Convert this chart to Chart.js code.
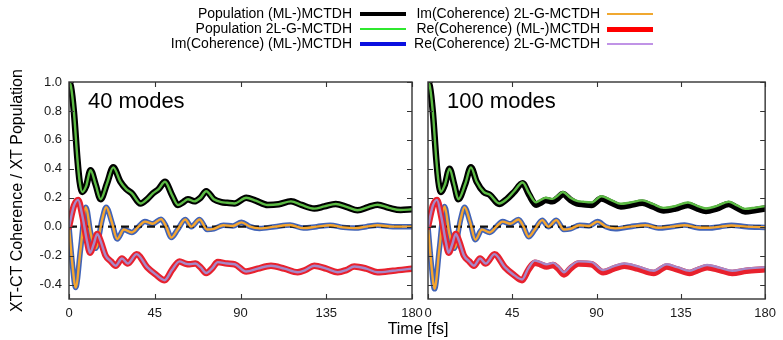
<!DOCTYPE html>
<html><head><meta charset="utf-8">
<script src="https://cdn.jsdelivr.net/npm/chart.js@4/dist/chart.umd.min.js"></script>
<style>
body{margin:0;background:#fff;width:783px;height:340px;overflow:hidden;position:relative;font-family:"Liberation Sans",Arial,sans-serif;color:#000}
canvas{position:absolute;left:0;top:0}
.txt{position:absolute;white-space:nowrap}
.lgc{position:absolute;font-size:14px;line-height:15px;text-align:right;white-space:nowrap}
.smp{position:absolute}
</style></head><body>
<canvas id="cL" width="783" height="340"></canvas>
<canvas id="cR" width="783" height="340"></canvas>
<div id="legend"></div>
<div class="txt" style="left:88px;top:90px;font-size:22px;line-height:22px">40 modes</div>
<div class="txt" style="left:447px;top:90px;font-size:22px;line-height:22px">100 modes</div>
<div class="txt" style="left:338px;width:160px;text-align:center;top:320px;font-size:16px;line-height:18px">Time [fs]</div>
<script>
// ---------- data ----------
const xTickVals = [0, 45, 90, 135, 180];
const yTickVals = [-0.4, -0.2, 0.0, 0.2, 0.4, 0.6, 0.8, 1.0];
const seriesNames = ["Population (ML-)MCTDH","Population 2L-G-MCTDH","Im(Coherence) (ML-)MCTDH","Im(Coherence) 2L-G-MCTDH","Re(Coherence) (ML-)MCTDH","Re(Coherence) 2L-G-MCTDH"];
const panelLabels = ["40 modes", "100 modes"];

const zeroT = [0, 180];
const zeroV = [0, 0];

// 40 modes
const popT40 = [0,1,2.6,4.4,5.6,7,9,11.3,14,16.6,20,23.2,27,30,33,37.5,41,44,47,50.4,54,57.2,60,62.4,65.8,69,72,76,79.9,83,86.8,93,98,104.3,110,116.5,122,128.7,134,140,146,151.4,157,161.9,168,174,180];
const popML40 = [1.0,0.97,0.79,0.47,0.31,0.24,0.28,0.39,0.29,0.19,0.30,0.41,0.31,0.26,0.23,0.16,0.19,0.23,0.26,0.31,0.22,0.15,0.17,0.19,0.175,0.20,0.245,0.19,0.17,0.165,0.16,0.20,0.18,0.15,0.155,0.175,0.15,0.125,0.14,0.157,0.135,0.113,0.135,0.152,0.13,0.115,0.12];
const popG40 = [1.0,0.97,0.79,0.47,0.31,0.24,0.28,0.39,0.29,0.19,0.30,0.41,0.31,0.26,0.23,0.16,0.19,0.23,0.26,0.31,0.22,0.15,0.17,0.19,0.175,0.20,0.245,0.19,0.17,0.165,0.16,0.20,0.18,0.15,0.155,0.175,0.15,0.125,0.14,0.157,0.135,0.113,0.135,0.152,0.13,0.115,0.12];

const imT40 = [0,1.7,3.5,6.1,8.9,11.3,14,17.4,19.5,22.5,25.3,28.8,33,36.5,39.8,44,48.3,51,53.7,57,61,64.2,68.5,72.5,76,81,86,90.5,95,100,108,116,123,130,137,144,150,156,162,170,180];
const imML40 = [0,-0.25,-0.42,-0.15,0.135,-0.04,-0.15,0.05,0.135,0.03,-0.085,-0.02,-0.04,0.0,0.035,0.02,0.052,0.0,-0.075,-0.02,0.05,0.0,0.05,-0.02,-0.015,0.01,0.005,0.03,0.0,-0.012,0.0,0.012,-0.01,0.0,0.01,-0.005,-0.01,0.0,0.01,0.0,0.0];
const imG40 = [0,-0.25,-0.42,-0.15,0.135,-0.04,-0.15,0.05,0.135,0.03,-0.085,-0.02,-0.04,0.0,0.035,0.02,0.052,0.0,-0.075,-0.02,0.05,0.0,0.05,-0.02,-0.015,0.01,0.005,0.03,0.0,-0.012,0.0,0.012,-0.01,0.0,0.01,-0.005,-0.01,0.0,0.01,0.0,0.0];

const reT40 = [0,2.6,4.8,7,9.6,11,13,14.8,16.6,19.2,22,24.5,27.8,30.8,35.5,41,45.5,50.2,54,58,61,63.3,66.3,69,72,75,78.1,83,87,93,99,106,113,120,124,128.7,135,141,145.5,149.7,156,161.9,170,180];
const reML40 = [0,0.145,0.185,0.075,-0.11,-0.18,-0.12,-0.05,-0.1,-0.2,-0.24,-0.27,-0.22,-0.255,-0.19,-0.28,-0.33,-0.37,-0.3,-0.24,-0.255,-0.26,-0.255,-0.28,-0.32,-0.29,-0.245,-0.255,-0.26,-0.31,-0.29,-0.27,-0.29,-0.315,-0.3,-0.27,-0.29,-0.315,-0.3,-0.275,-0.29,-0.315,-0.305,-0.29];
const reG40 = [0,0.145,0.185,0.075,-0.11,-0.18,-0.12,-0.05,-0.1,-0.2,-0.24,-0.27,-0.22,-0.255,-0.19,-0.28,-0.33,-0.37,-0.3,-0.24,-0.255,-0.26,-0.255,-0.28,-0.32,-0.29,-0.245,-0.255,-0.26,-0.31,-0.29,-0.27,-0.29,-0.315,-0.3,-0.27,-0.29,-0.315,-0.3,-0.275,-0.29,-0.315,-0.305,-0.29];

// 100 modes
const popT100 = [0,1,2.6,4.4,5.6,6.8,9,11.5,14,16.2,20,22.9,26,29.7,33,38,42,46,50.5,54,57.7,60,62.9,66.4,69,72,76,79.5,83,87.3,92.6,98,103,108,114.4,120,125.8,132,138.8,144,148.4,154,160.6,165,169.3,175,180];
const popML100 = [1.0,0.97,0.79,0.47,0.31,0.24,0.29,0.40,0.29,0.19,0.30,0.41,0.31,0.24,0.22,0.157,0.19,0.24,0.30,0.22,0.152,0.165,0.185,0.175,0.195,0.225,0.185,0.16,0.155,0.15,0.195,0.165,0.14,0.15,0.165,0.14,0.112,0.125,0.15,0.125,0.108,0.125,0.157,0.13,0.105,0.115,0.125];
const popG100 = [1.0,0.97,0.79,0.47,0.31,0.24,0.29,0.40,0.29,0.19,0.30,0.41,0.31,0.24,0.22,0.16,0.19,0.245,0.305,0.23,0.168,0.183,0.2,0.192,0.212,0.24,0.2,0.178,0.172,0.168,0.21,0.182,0.158,0.167,0.182,0.157,0.13,0.142,0.167,0.142,0.126,0.142,0.172,0.147,0.123,0.132,0.142];

const imT100 = [0,1.7,3.5,6.1,8.9,11.3,14,17.4,19.5,22.5,25.3,28.8,33,36.5,39.8,44,48.3,51,53.7,57,61,64.2,68.5,72.5,76,81,86,90.5,95,100,108,116,123,130,137,144,150,156,162,170,180];
const imML100 = [0,-0.25,-0.43,-0.15,0.14,-0.04,-0.15,0.05,0.135,0.03,-0.09,-0.02,-0.04,0.0,0.035,0.02,0.05,0.0,-0.07,-0.02,0.045,0.0,0.045,-0.02,-0.015,0.01,0.005,0.035,0.0,-0.015,0.0,0.012,-0.01,0.0,0.012,-0.008,-0.01,0.0,0.01,0.0,-0.005];
const imG100 = [0,-0.25,-0.43,-0.15,0.14,-0.04,-0.15,0.05,0.135,0.03,-0.09,-0.02,-0.04,0.0,0.035,0.02,0.05,0.0,-0.07,-0.02,0.045,0.0,0.045,-0.02,-0.015,0.01,0.005,0.035,0.0,-0.012,0.0,0.01,-0.008,0.0,0.01,-0.006,-0.008,0.0,0.008,0.0,-0.004];

const reT100 = [0,2.6,4.8,7,9.6,11,13,14.8,16.6,19.2,22,24.5,27.8,30.8,35.5,41,45.5,50.2,53.5,57,60,63.3,66.8,69.5,72.6,76,80.4,87.3,93.5,99,104.8,112,120.5,127.5,133,139.7,144,149,156,162.4,170,180];
const reML100 = [0,0.145,0.185,0.075,-0.11,-0.18,-0.12,-0.05,-0.1,-0.2,-0.24,-0.27,-0.22,-0.255,-0.19,-0.28,-0.33,-0.37,-0.3,-0.25,-0.26,-0.275,-0.265,-0.29,-0.33,-0.29,-0.255,-0.26,-0.315,-0.29,-0.27,-0.29,-0.32,-0.275,-0.295,-0.32,-0.3,-0.28,-0.3,-0.32,-0.305,-0.295];
const reG100 = [0,0.145,0.185,0.075,-0.11,-0.18,-0.12,-0.05,-0.1,-0.2,-0.24,-0.27,-0.22,-0.255,-0.19,-0.28,-0.33,-0.365,-0.29,-0.235,-0.245,-0.26,-0.25,-0.275,-0.315,-0.275,-0.24,-0.245,-0.3,-0.275,-0.255,-0.275,-0.305,-0.26,-0.28,-0.305,-0.285,-0.265,-0.285,-0.305,-0.29,-0.28];

// ---------- styles ----------
const FONT = "'Liberation Sans', Arial, sans-serif";
Chart.defaults.font.family = FONT;
const plotStyle = [
  {c:'#000000', w:6.5, o:9},
  {c:'#5cbb44', w:2.4, o:8},
  {c:'#4063b8', w:5.5, o:7},
  {c:'#f4a530', w:2.4, o:5},
  {c:'#e8212d', w:6.5, o:4},
  {c:'#a688c8', w:2.4, o:3}
];
const legendStyle = [
  {c:'#000000', h:4},{c:'#2fe82f', h:2.5},{c:'#0a10e0', h:4},
  {c:'#f0a830', h:2.5},{c:'#ff0000', h:5},{c:'#c093e6', h:2.5}
];

function pts(t, v){ return t.map((tt,i)=>({x:tt, y:v[i]})); }
function ds(i, t, v){
  const s = plotStyle[i];
  return {label: seriesNames[i], data: pts(t,v), borderColor: s.c, borderWidth: s.w, order: s.o,
    pointRadius:0, fill:false, cubicInterpolationMode:'monotone', borderJoinStyle:'round', borderCapStyle:'round'};
}
function zeroDs(){
  return {label:'zero', data: pts(zeroT, zeroV), borderColor:'#111', borderWidth:2.4, borderDash:[8,5], order:6, pointRadius:0, fill:false};
}

const framePlugin = {
  id:'frame',
  afterDatasetsDraw(chart){
    const {ctx, chartArea:a, scales:{x, y}} = chart;
    ctx.save();
    ctx.strokeStyle = '#333'; ctx.lineWidth = 1.4;
    ctx.strokeRect(a.left, a.top, a.right-a.left, a.bottom-a.top);
    ctx.lineWidth = 1.1;
    ctx.beginPath();
    xTickVals.forEach(v=>{ const p = Math.round(x.getPixelForValue(v))+0.5;
      ctx.moveTo(p, a.bottom); ctx.lineTo(p, a.bottom-5); ctx.moveTo(p, a.top); ctx.lineTo(p, a.top+5); });
    yTickVals.forEach(v=>{ const p = Math.round(y.getPixelForValue(v))+0.5;
      ctx.moveTo(a.left, p); ctx.lineTo(a.left+5, p); ctx.moveTo(a.right, p); ctx.lineTo(a.right-5, p); });
    ctx.stroke();
    ctx.restore();
  }
};

function makeChart(id, sets, isLeft){
  return new Chart(document.getElementById(id), {
    type:'line',
    data:{datasets: sets},
    options:{
      responsive:false, animation:false, events:[],
      layout:{padding: isLeft ? {top:82, right:371, bottom:0, left:0} : {top:82, right:12, bottom:0, left:0}},
      plugins:{legend:{display:false}, tooltip:{enabled:false}},
      scales:{
        x:{type:'linear', min:0, max:180,
           afterBuildTicks: s => { s.ticks = xTickVals.map(v=>({value:v})); },
           afterFit: s => { s.height = 41; },
           grid:{display:false, drawTicks:false}, border:{display:false},
           ticks:{font:{size:13, family:FONT}, color:'#1a1a1a', padding:7, maxRotation:0, autoSkip:false,
                  callback: v => String(v)}},
        y:{type:'linear', min:-0.5, max:1.0,
           afterBuildTicks: s => { s.ticks = yTickVals.map(v=>({value:v})); },
           afterFit: s => { s.width = isLeft ? 69 : 428; },
           grid:{display:false, drawTicks:false}, border:{display:false},
           ticks:{display:isLeft, font:{size:13, family:FONT}, color:'#1a1a1a', padding:7, autoSkip:false,
                  callback: v => Number(v).toFixed(1)},
           title:{display:isLeft, text:'XT-CT Coherence / XT Population', font:{size:16, family:FONT}, color:'#000', padding:{top:8, bottom:0}}}
      }
    },
    plugins:[framePlugin]
  });
}

makeChart('cL', [
  ds(0, popT40, popML40), ds(1, popT40, popG40),
  ds(2, imT40, imML40), ds(3, imT40, imG40),
  ds(4, reT40, reML40), ds(5, reT40, reG40), zeroDs()
], true);
makeChart('cR', [
  ds(0, popT100, popML100), ds(1, popT100, popG100),
  ds(2, imT100, imML100), ds(3, imT100, imG100),
  ds(4, reT100, reML100), ds(5, reT100, reG100), zeroDs()
], false);

// ---------- legend ----------
const lg = document.getElementById('legend');
const rowsY = [14, 29, 44];
const cols = [{textRight:352, sx:360, sw:46}, {textRight:600, sx:607, sw:46}];
seriesNames.forEach((name, i)=>{
  const col = cols[Math.floor(i/3)], ry = rowsY[i%3];
  const t = document.createElement('div');
  t.className = 'lgc';
  t.style.right = (783 - col.textRight) + 'px';
  t.style.top = (ry - 8) + 'px';
  t.textContent = name;
  lg.appendChild(t);
  const s = document.createElement('div');
  s.className = 'smp';
  const st = legendStyle[i];
  s.style.left = col.sx + 'px'; s.style.width = col.sw + 'px';
  s.style.top = (ry - st.h/2) + 'px'; s.style.height = st.h + 'px';
  s.style.background = st.c;
  lg.appendChild(s);
});
</script>
</body></html>
